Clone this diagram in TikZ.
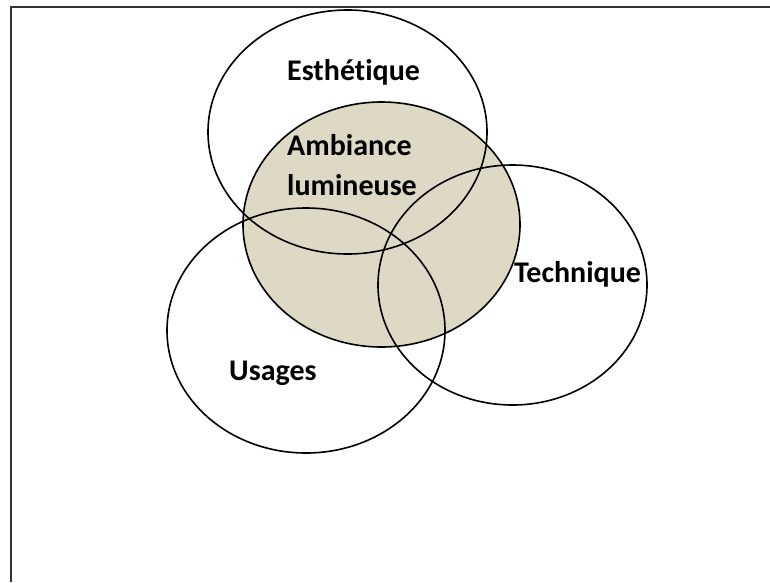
\documentclass[tikz,border=0pt]{standalone}
\usepackage{fontspec}
\setmainfont[Ligatures=NoCommon]{Carlito}
\usetikzlibrary{shapes.geometric}
\definecolor{tanfill}{HTML}{DDD9C4}
\definecolor{framegray}{HTML}{333333}
\tikzset{
  venn/.style={ellipse, draw=black, line width=1.6pt, inner sep=0pt},
  lbl/.style={anchor=base west, inner sep=0pt, font=\fontsize{30}{40}\selectfont\bfseries},
}
\begin{document}
\begin{tikzpicture}[x=1pt,y=-1pt]
\useasboundingbox (0,0) rectangle (770,582);
\fill[white] (0,0) rectangle (770,582);
% frame (only top and left edges visible)
\draw[framegray, line width=2.6pt] (11,582) -- (11,7) -- (770,7);
% filled central ellipse
\node[venn, fill=tanfill, minimum width=277pt, minimum height=245pt] (amb) at (381.5,224.5) {};
% outline ellipses
\node[venn, minimum width=279pt, minimum height=244pt] (est) at (347.5,132) {};
\node[venn, minimum width=269pt, minimum height=240pt] (tec) at (512.5,285) {};
\node[venn, minimum width=278pt, minimum height=245pt] (usa) at (306,330.5) {};
% labels
\node[lbl] (testh) at (287,80) {Esthétique};
\node[lbl] (tamb1) at (287,155) {Ambiance};
\node[lbl] (tamb2) at (287,195) {lumineuse};
\node[lbl] (ttec) at (514,282) {Technique};
\node[lbl] (tusa) at (229,380) {Usages};
\end{tikzpicture}
\end{document}
